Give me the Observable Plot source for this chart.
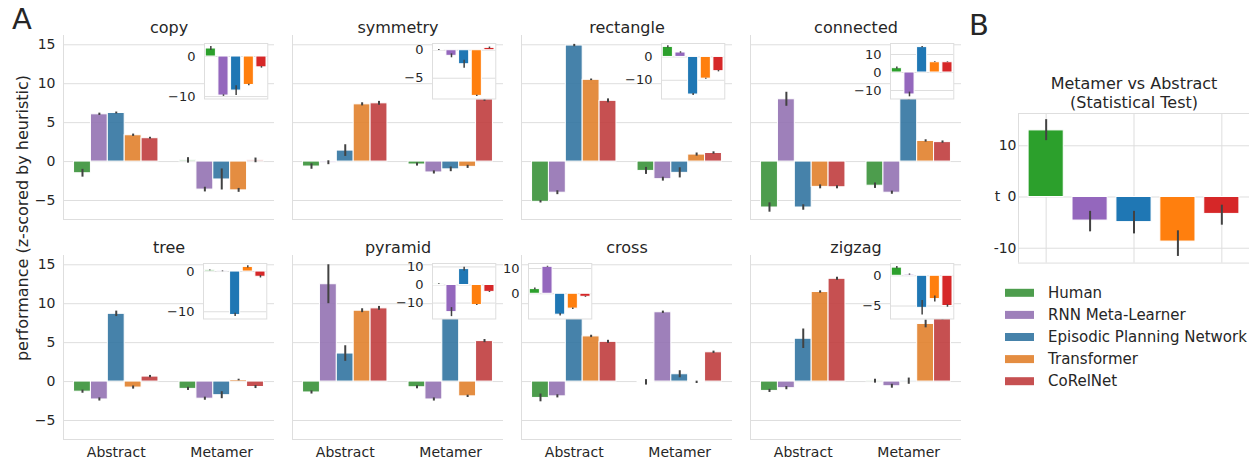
<!DOCTYPE html>
<html>
<head>
<meta charset="utf-8">
<script src="https://cdn.jsdelivr.net/npm/d3@7"></script>
<script src="https://cdn.jsdelivr.net/npm/@observablehq/plot@0.6"></script>
<style>
  body { margin: 0; background: #fff; }
  #fig { position: relative; width: 1260px; height: 463px; overflow: hidden;
         font-family: "DejaVu Sans", sans-serif; color: #262626; background: #fff; }
  #fig > svg { position: absolute; }
</style>
</head>
<body>
<div id="fig"></div>
<script>
// ---- data -------------------------------------------------------------
const tasks = ["copy", "symmetry", "rectangle", "connected", "tree", "pyramid", "cross", "zigzag"];
const conditions = ["Abstract", "Metamer"];
const models = ["Human", "RNN Meta-Learner", "Episodic Planning Network", "Transformer", "CoRelNet"];

// performance (z-scored by heuristic), one row per task, one column per model
const abstractMean = [
  [-1.5, 6.07, 6.24, 3.38, 3.0],
  [-0.64, -0.15, 1.41, 7.35, 7.48],
  [-5.17, -4.0, 14.9, 10.5, 7.8],
  [-5.9, 8.0, -5.9, -3.25, -3.3],
  [-1.3, -2.3, 8.7, -0.77, 0.64],
  [-1.4, 12.5, 3.6, 9.1, 9.4],
  [-2.1, -1.9, 9.2, 5.8, 5.1],
  [-1.2, -0.85, 5.5, 11.5, 13.2]
];
const abstractErr = [
  [0.5, 0.15, 0.12, 0.15, 0.12],
  [0.35, 0.25, 0.75, 0.2, 0.25],
  [0.15, 0.25, 0.15, 0.1, 0.25],
  [0.6, 0.9, 0.35, 0.25, 0.2],
  [0.2, 0.2, 0.35, 0.2, 0.15],
  [0.2, 2.5, 1.0, 0.25, 0.25],
  [0.5, 0.2, 0.3, 0.15, 0.2],
  [0.2, 0.2, 1.25, 0.15, 0.2]
];
const metamerMean = [
  [0.15, -3.6, -2.3, -3.7, 0.15],
  [-0.38, -1.4, -1.0, -0.68, 8.0],
  [-1.2, -2.26, -1.45, 0.9, 1.1],
  [-3.1, -4.0, 8.2, 2.65, 2.5],
  [-0.94, -2.2, -1.75, 0.2, -0.7],
  [-0.73, -2.3, 12.4, -1.9, 5.2],
  [-0.1, 8.9, 0.94, -0.1, 3.76],
  [0.05, -0.6, 0.05, 7.4, 8.2]
];
const metamerErr = [
  [0.35, 0.3, 1.35, 0.25, 0.3],
  [0.2, 0.2, 0.3, 0.2, 0.25],
  [0.45, 0.25, 0.65, 0.2, 0.15],
  [0.35, 0.2, 0.3, 0.15, 0.15],
  [0.2, 0.2, 0.45, 0.1, 0.2],
  [0.2, 0.2, 0.9, 0.15, 0.2],
  [0.35, 0.15, 0.45, 0.15, 0.15],
  [0.25, 0.25, 0.4, 0.5, 0.3]
];
// inset: Metamer minus Abstract, per model
const shiftMean = [
  [2.0, -9.75, -8.5, -7.1, -2.7],
  [0.05, -1.0, -2.5, -8.15, 0.42],
  [4.3, 1.9, -16.1, -9.3, -6.1],
  [2.4, -12.2, 14.1, 5.7, 5.7],
  [0.3, 0.05, -10.8, 1.15, -1.3],
  [0.5, -15.0, 8.8, -11.1, -3.8],
  [1.85, 10.7, -8.3, -5.9, -1.2],
  [1.35, 0.2, -5.3, -3.85, -5.0]
];
const shiftErr = [
  [0.5, 0.2, 1.2, 0.2, 0.2],
  [0.1, 0.35, 0.7, 0.1, 0.15],
  [0.5, 0.3, 0.4, 0.2, 0.3],
  [0.6, 1.3, 0.4, 0.2, 0.2],
  [0.1, 0.1, 0.4, 0.3, 0.3],
  [0.2, 2.5, 1.0, 0.3, 0.3],
  [0.4, 0.2, 0.5, 0.3, 0.2],
  [0.2, 0.1, 1.2, 0.5, 0.2]
];
// statistical test: Metamer vs Abstract
const tStat = [13.0, -4.6, -4.9, -8.7, -3.3];
const tLow  = [11.0, -6.8, -7.2, -11.6, -5.5];
const tHigh = [15.1, -2.8, -2.8, -6.6, -1.6];

// tick labels
const mainTicks = [-5, 0, 5, 10, 15];
const insetTicks = [[0, -10], [0, -5], [0, -10], [10, 0, -10], [0, -10], [10, 0, -10], [10, 0], [0, -5]];
const testTicks = [-10, 0, 10];

// ---- style & layout ---------------------------------------------------
const FONT = "DejaVu Sans";
const INK = "#262626";
const GRID = "#dedede";
const ERR = "#424242";
const mutedColors = ["#3a923a", "#9472b2", "#3274a1", "#e1812c", "#c03d3e"];
const brightColors = ["#2ca02c", "#9467bd", "#1f77b4", "#ff7f0e", "#d62728"];

const panel = { x0: 63, y0: 35, dx: 229, dy: 220, w: 211, h: 184 };
const mainY = [-7.44, 16.19];
const insetBox = { w: 63.3, h: 55.5, top: 8 };
const insetLeft = [0.668, 0.665, 0.663, 0.663, 0.665, 0.665, 0.035, 0.663];
const insetY = [[-10.6, 3.25], [-8.7, 1.2], [-18.0, 5.75], [-14.7, 16.1],
                [-11.8, 2.0], [-18.8, 11.9], [-10.0, 12.0], [-7.14, 2.03]];
const testBox = { x: 1018.3, y: 112.7, w: 231, h: 149.6 };
const testY = [-12.9, 16.3];

const fig = document.getElementById("fig");
function place(node, left, top) {
  node.style.left = left + "px";
  node.style.top = top + "px";
  fig.append(node);
}
const baseStyle = (size) => ({
  background: "transparent", overflow: "visible", maxWidth: "none",
  fontFamily: FONT, fontSize: size + "px", color: INK
});

// ---- main panels ------------------------------------------------------
const insets = [];
tasks.forEach((task, k) => {
  const col = k % 4, row = Math.floor(k / 4);
  const left = panel.x0 + col * panel.dx, top = panel.y0 + row * panel.dy;
  const ml = 45, mr = 2, mt = 30, mb = row ? 30 : 2;

  const bars = [];
  conditions.forEach((cond, c) => {
    const means = c ? metamerMean[k] : abstractMean[k];
    const errs = c ? metamerErr[k] : abstractErr[k];
    models.forEach((m, i) => {
      const x1 = c - 0.4 + i * 0.16;
      bars.push({ model: m, x1, x2: x1 + 0.16, xm: x1 + 0.08,
                  value: means[i], lo: means[i] - errs[i], hi: means[i] + errs[i] });
    });
  });

  const chart = Plot.plot({
    width: ml + panel.w + mr, height: mt + panel.h + mb,
    marginLeft: ml, marginRight: mr, marginTop: mt, marginBottom: mb,
    style: baseStyle(14),
    x: { domain: [-0.5, 1.5], axis: row ? "bottom" : null, ticks: [0, 1],
         tickFormat: i => conditions[i], tickSize: 0, tickPadding: 8, label: null },
    y: { domain: mainY, axis: col === 0 ? "left" : null, ticks: mainTicks,
         tickSize: 0, tickPadding: 8, label: null },
    color: { domain: models, range: mutedColors },
    marks: [
      Plot.ruleY(mainTicks, { stroke: GRID, strokeWidth: 1 }),
      Plot.ruleX([-0.5], { stroke: GRID }),
      Plot.ruleY([mainY[0]], { stroke: GRID }),
      Plot.rect(bars, { x1: "x1", x2: "x2", y1: 0, y2: "value", fill: "model",
                        fillOpacity: 0.9, stroke: "white", strokeWidth: 1 }),
      Plot.ruleX(bars, { x: "xm", y1: "lo", y2: "hi", stroke: ERR, strokeWidth: 2 }),
      Plot.text([task], { text: d => d, frameAnchor: "top", lineAnchor: "bottom",
                          dy: -3, fontSize: 16, fill: INK })
    ]
  });
  place(chart, left - ml, top - mt);

  // inset: change from Abstract to Metamer
  const iBars = models.map((m, i) => ({
    model: m, x1: i - 0.4, x2: i + 0.4, xm: i,
    value: shiftMean[k][i], lo: shiftMean[k][i] - shiftErr[k][i], hi: shiftMean[k][i] + shiftErr[k][i]
  }));
  const iml = 42, imo = 2;
  const inset = Plot.plot({
    width: iml + insetBox.w + imo, height: insetBox.h + 2 * imo,
    marginLeft: iml, marginRight: imo, marginTop: imo, marginBottom: imo,
    style: baseStyle(13),
    x: { domain: [-0.5, 4.5], axis: null },
    y: { domain: insetY[k], ticks: insetTicks[k], tickSize: 0, tickPadding: 9, label: null },
    color: { domain: models, range: brightColors },
    marks: [
      Plot.frame({ fill: "white", stroke: GRID }),
      Plot.ruleY(insetTicks[k], { stroke: GRID }),
      Plot.rect(iBars, { x1: "x1", x2: "x2", y1: 0, y2: "value", fill: "model",
                         stroke: "white", strokeWidth: 1 }),
      Plot.ruleX(iBars, { x: "xm", y1: "lo", y2: "hi", stroke: ERR, strokeWidth: 1.5 })
    ]
  });
  insets.push([inset, left + insetLeft[k] * panel.w - iml, top + insetBox.top - imo]);
});
insets.forEach(([node, x, y]) => place(node, x, y));

// ---- panel B: statistical test ---------------------------------------
{
  const ml = 45, mt = 45, mr = 6, mb = 6;
  const bars = models.map((m, i) => ({
    model: m, x1: i - 0.4, x2: i + 0.4, xm: i, value: tStat[i], lo: tLow[i], hi: tHigh[i]
  }));
  const chart = Plot.plot({
    width: ml + testBox.w + mr, height: mt + testBox.h + mb,
    marginLeft: ml, marginRight: mr, marginTop: mt, marginBottom: mb,
    style: baseStyle(14),
    x: { domain: [-0.63, 4.63], axis: null },
    y: { domain: testY, ticks: testTicks, tickFormat: d => String(d),
         tickSize: 0, tickPadding: 2, label: null },
    color: { domain: models, range: brightColors },
    marks: [
      Plot.ruleY(testTicks, { stroke: GRID }),
      Plot.ruleX([0, 2, 4], { stroke: GRID }),
      Plot.ruleX([-0.63], { stroke: GRID }),
      Plot.ruleY(testY, { stroke: GRID }),
      Plot.rect(bars, { x1: "x1", x2: "x2", y1: 0, y2: "value", fill: "model",
                        stroke: "white", strokeWidth: 1 }),
      Plot.ruleX(bars, { x: "xm", y1: "lo", y2: "hi", stroke: ERR, strokeWidth: 2 }),
      Plot.text([{ v: 0 }], { y: "v", text: () => "t", frameAnchor: "left", dx: -21,
                              textAnchor: "middle", fontSize: 14, fill: INK }),
      Plot.text(["Metamer vs Abstract\n(Statistical Test)"], { text: d => d, frameAnchor: "top",
                lineAnchor: "bottom", dy: -5, fontSize: 16, lineHeight: 1.2, fill: INK })
    ]
  });
  place(chart, testBox.x - ml, testBox.y - mt);
}

// ---- shared labels and legend ----------------------------------------
const overlay = d3.create("svg")
  .attr("width", 1260).attr("height", 463)
  .style("left", "0px").style("top", "0px").style("pointer-events", "none")
  .attr("font-family", FONT).attr("fill", INK);

overlay.append("text").attr("x", 12).attr("y", 29).attr("font-size", 29).text("A");
overlay.append("text").attr("x", 969).attr("y", 35).attr("font-size", 29).text("B");
overlay.append("text")
  .attr("transform", "translate(22,218) rotate(-90)")
  .attr("text-anchor", "middle").attr("dominant-baseline", "central")
  .attr("font-size", 16).text("performance (z-scored by heuristic)");

const legend = overlay.append("g").attr("transform", "translate(1005,292.8)");
models.forEach((m, i) => {
  const g = legend.append("g").attr("transform", `translate(0,${i * 22.1})`);
  g.append("rect").attr("x", 0).attr("y", -4).attr("width", 29).attr("height", 8)
    .attr("fill", mutedColors[i]).attr("fill-opacity", 0.9);
  g.append("text").attr("x", 43).attr("y", 0).attr("dominant-baseline", "central")
    .attr("font-size", 15).text(m);
});
fig.append(overlay.node());
</script>
</body>
</html>
